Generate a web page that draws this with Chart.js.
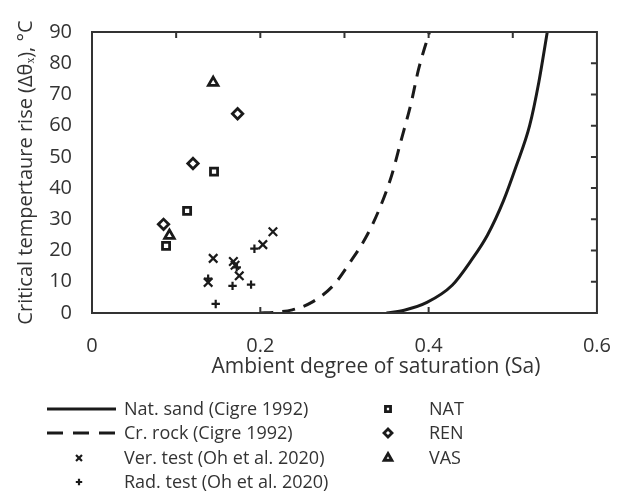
<!DOCTYPE html>
<html><head><meta charset="utf-8">
<script src="https://cdn.jsdelivr.net/npm/chart.js@4.4.1/dist/chart.umd.min.js"></script>
<style>html,body{margin:0;padding:0;background:#fff}</style>
</head><body>
<canvas id="c" width="632" height="494"></canvas>
<script>
// ---- data ----
const natSandX = [0.350, 0.371, 0.398, 0.428, 0.451, 0.470, 0.489, 0.504, 0.520, 0.531, 0.541];
const natSandY = [0.0, 0.9, 3.4, 8.9, 17.0, 25.0, 36.0, 47.0, 60.0, 74.0, 90.0];
const crRockX = [0.200, 0.215, 0.238, 0.261, 0.287, 0.306, 0.325, 0.341, 0.356, 0.367, 0.379, 0.388, 0.401];
const crRockY = [0.0, 0.2, 1.0, 3.4, 8.9, 16.0, 24.0, 33.0, 44.0, 55.0, 67.0, 78.0, 90.0];
const verTestX = [0.138, 0.144, 0.168, 0.170, 0.175, 0.203, 0.215];
const verTestY = [9.8, 17.5, 16.5, 15.3, 11.9, 21.9, 26.0];
const radTestX = [0.138, 0.147, 0.167, 0.172, 0.189, 0.193];
const radTestY = [11.0, 2.9, 8.7, 14.6, 9.1, 20.6];
const natX = [0.088, 0.113, 0.145];
const natY = [21.5, 32.7, 45.3];
const renX = [0.085, 0.120, 0.173];
const renY = [28.4, 47.9, 63.8];
const vasX = [0.092, 0.144];
const vasY = [24.8, 73.8];

const xTickLabels = [0, 0.2, 0.4, 0.6];
const yTickLabels = [0, 10, 20, 30, 40, 50, 60, 70, 80, 90];
const topTickValues = [0.1, 0.2, 0.3, 0.4, 0.5];
const bottomTickValues = [0.2, 0.4];
const rightTickValues = [10, 20, 30, 40, 50, 60, 70, 80];

const labels = ['Nat. sand (Cigre 1992)', 'Cr. rock (Cigre 1992)', 'Ver. test (Oh et al. 2020)',
  'Rad. test (Oh et al. 2020)', 'NAT', 'REN', 'VAS'];
const xTitle = 'Ambient degree of saturation (Sa)';
const yTitle = 'Critical tempertaure rise (Δθₓ), °C';

const pts = (xs, ys) => xs.map((x, i) => ({x, y: ys[i]}));
const INK = '#1a1a1a';
const TXT = '#333333';
const FONT = '"Open Sans"';

function marker(label, data, style, r, bw, lr) {
  return {label, data, showLine: false, pointStyle: style, pointRadius: r, pointHoverRadius: r,
    pointBorderWidth: bw, pointBorderColor: INK, pointBackgroundColor: 'rgba(0,0,0,0)',
    borderColor: INK, backgroundColor: 'rgba(0,0,0,0)', legendRadius: lr};
}

const datasets = [
  {label: labels[0], data: pts(natSandX, natSandY), showLine: true, borderColor: INK, borderWidth: 3,
    pointRadius: 0, cubicInterpolationMode: 'monotone', fill: false},
  {label: labels[1], data: pts(crRockX, crRockY), showLine: true, borderColor: INK, borderWidth: 3,
    borderDash: [13, 9], pointRadius: 0, cubicInterpolationMode: 'monotone', fill: false},
  marker(labels[2], pts(verTestX, verTestY), 'crossRot', 6, 2.2, 4.2),
  marker(labels[3], pts(radTestX, radTestY), 'cross', 4.2, 2.2, 3.2),
  marker(labels[4], pts(natX, natY), 'rect', 5, 2.8, 3.6),
  marker(labels[5], pts(renX, renY), 'rectRot', 5.2, 2.8, 4),
  marker(labels[6], pts(vasX, vasY), 'triangle', 5.5, 2.8, 4.5)
];

const framePlugin = {
  id: 'frame',
  afterDatasetsDraw(chart) {
    const {ctx, chartArea: a, scales: {x, y}} = chart;
    ctx.save();
    ctx.strokeStyle = '#333';
    ctx.lineWidth = 2;
    ctx.strokeRect(a.left, a.top, a.right - a.left, a.bottom - a.top);
    ctx.beginPath();
    const L = 6;
    topTickValues.forEach(v => { const px = x.getPixelForValue(v); ctx.moveTo(px, a.top); ctx.lineTo(px, a.top + L); });
    bottomTickValues.forEach(v => { const px = x.getPixelForValue(v); ctx.moveTo(px, a.bottom); ctx.lineTo(px, a.bottom - L); });
    rightTickValues.forEach(v => { const py = y.getPixelForValue(v); ctx.moveTo(a.right, py); ctx.lineTo(a.right - L, py); });
    ctx.stroke();
    // x axis title (offset to the right as in the reference)
    ctx.fillStyle = TXT;
    ctx.font = '21px ' + FONT;
    ctx.textAlign = 'center';
    ctx.textBaseline = 'middle';
    ctx.fillText(xTitle, 376, 367);
    ctx.restore();
  }
};

const legendPlugin = {
  id: 'customLegend',
  afterDraw(chart) {
    const ctx = chart.ctx;
    const rows = [409, 433, 458, 482];
    ctx.save();
    ctx.font = '18px ' + FONT;
    ctx.textBaseline = 'middle';
    ctx.fillStyle = TXT;
    chart.data.datasets.forEach((ds, i) => {
      const col = i < 4 ? 0 : 1;
      const row = i < 4 ? i : i - 4;
      const cy = rows[row];
      const textX = col === 0 ? 124 : 429;
      if (ds.showLine) {
        ctx.save();
        ctx.strokeStyle = INK; ctx.lineWidth = 3.2;
        ctx.setLineDash(ds.borderDash ? [16, 10] : []);
        ctx.beginPath(); ctx.moveTo(47, cy); ctx.lineTo(116, cy); ctx.stroke();
        ctx.restore();
      } else {
        const mx = col === 0 ? 79 : 388;
        ctx.save();
        ctx.strokeStyle = INK; ctx.fillStyle = 'rgba(0,0,0,0)';
        ctx.lineWidth = ds.pointBorderWidth;
        Chart.helpers.drawPoint(ctx, {pointStyle: ds.pointStyle, radius: ds.legendRadius, rotation: 0, borderWidth: ds.pointBorderWidth}, mx, cy);
        ctx.restore();
      }
      ctx.fillText(ds.label, textX, cy + 1);
    });
    ctx.restore();
  }
};

new Chart(document.getElementById('c'), {
  type: 'scatter',
  data: {datasets},
  plugins: [framePlugin, legendPlugin],
  options: {
    responsive: false,
    animation: false,
    layout: {padding: {top: 14, right: 15, left: 0, bottom: 101}},
    plugins: {legend: {display: false}, tooltip: {enabled: false}},
    scales: {
      x: {
        type: 'linear', min: 0, max: 0.6,
        afterFit(s) { s.height = 80; },
        afterBuildTicks(s) { s.ticks = xTickLabels.map(v => ({value: v})); },
        ticks: {color: TXT, font: {family: 'Open Sans', size: 20}, padding: 21, maxRotation: 0,
          callback: v => (v === 0 ? '0' : String(v))},
        grid: {display: false, drawTicks: false},
        border: {display: false},
        title: {display: false, text: xTitle}
      },
      y: {
        type: 'linear', min: 0, max: 90,
        afterFit(s) { s.width = 92; },
        afterBuildTicks(s) { s.ticks = yTickLabels.map(v => ({value: v})); },
        ticks: {color: TXT, font: {family: 'Open Sans', size: 20}, padding: 20},
        grid: {display: false, drawTicks: false},
        border: {display: false},
        title: {display: true, text: yTitle, color: TXT,
          font: {family: 'Open Sans', size: 20}, padding: {top: 14, bottom: 0}}
      }
    }
  }
});
</script>
</body></html>
